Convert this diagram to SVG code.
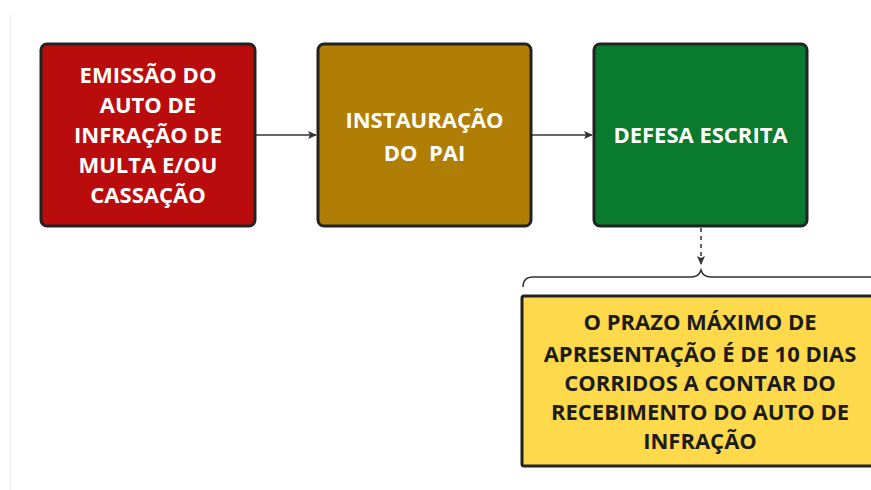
<svg xmlns="http://www.w3.org/2000/svg" width="871" height="490" viewBox="0 0 871 490">
<style>
.box{stroke:#222;stroke-width:3}
.t{font-family:"Open Sans","Noto Sans",sans-serif;font-weight:700;font-size:22px;text-anchor:middle}
.w{fill:#fff}
.k{fill:#1c1c1c}
.c{stroke:#333;stroke-width:1.5;fill:none}
</style>
<defs>
<marker id="ah" markerWidth="10" markerHeight="10" refX="8" refY="5" orient="auto" markerUnits="userSpaceOnUse">
<path d="M0,1 L9,5 L0,9 L2,5 Z" fill="#333"/>
</marker>
</defs>
<rect width="871" height="490" fill="#fff"/>
<line x1="10.5" y1="14" x2="10.5" y2="490" stroke="#f0f0f0" stroke-width="1"/>
<g id="connectors">
<line class="c" x1="256" y1="135" x2="316" y2="135" marker-end="url(#ah)"/>
<line class="c" x1="532" y1="135" x2="592" y2="135" marker-end="url(#ah)"/>
<line class="c" x1="701" y1="228" x2="701" y2="264" stroke-dasharray="4,4" marker-end="url(#ah)"/>
<path class="c" d="M523,287 Q523,277 533,277 L691,277 Q699,277 701,270 Q703,277 711,277 L871,277"/>
</g>
<g id="n1">
<rect class="box" x="41" y="44" width="214" height="182" rx="6" fill="#BA0C0C"/>
<text class="t w" x="148" y="83">EMISSÃO DO</text>
<text class="t w" x="148" y="113">AUTO DE</text>
<text class="t w" x="148" y="143">INFRAÇÃO DE</text>
<text class="t w" x="148" y="173">MULTA E/OU</text>
<text class="t w" x="148" y="203">CASSAÇÃO</text>
</g>
<g id="n2">
<rect class="box" x="318" y="44" width="213" height="182" rx="6" fill="#B07E04"/>
<text class="t w" x="424.5" y="128">INSTAURAÇÃO</text>
<text class="t w" x="424.5" y="161" xml:space="preserve">DO  PAI</text>
</g>
<g id="n3">
<rect class="box" x="594" y="44" width="213" height="182" rx="6" fill="#0A7A2E"/>
<text class="t w" x="700.5" y="143">DEFESA ESCRITA</text>
</g>
<g id="n4">
<rect class="box" x="522" y="296" width="360" height="170" rx="2" fill="#FDD94B"/>
<text class="t k" x="700" y="330">O PRAZO MÁXIMO DE</text>
<text class="t k" x="700" y="362">APRESENTAÇÃO É DE 10 DIAS</text>
<text class="t k" x="700" y="391">CORRIDOS A CONTAR DO</text>
<text class="t k" x="700" y="420">RECEBIMENTO DO AUTO DE</text>
<text class="t k" x="700" y="449">INFRAÇÃO</text>
</g>
</svg>
